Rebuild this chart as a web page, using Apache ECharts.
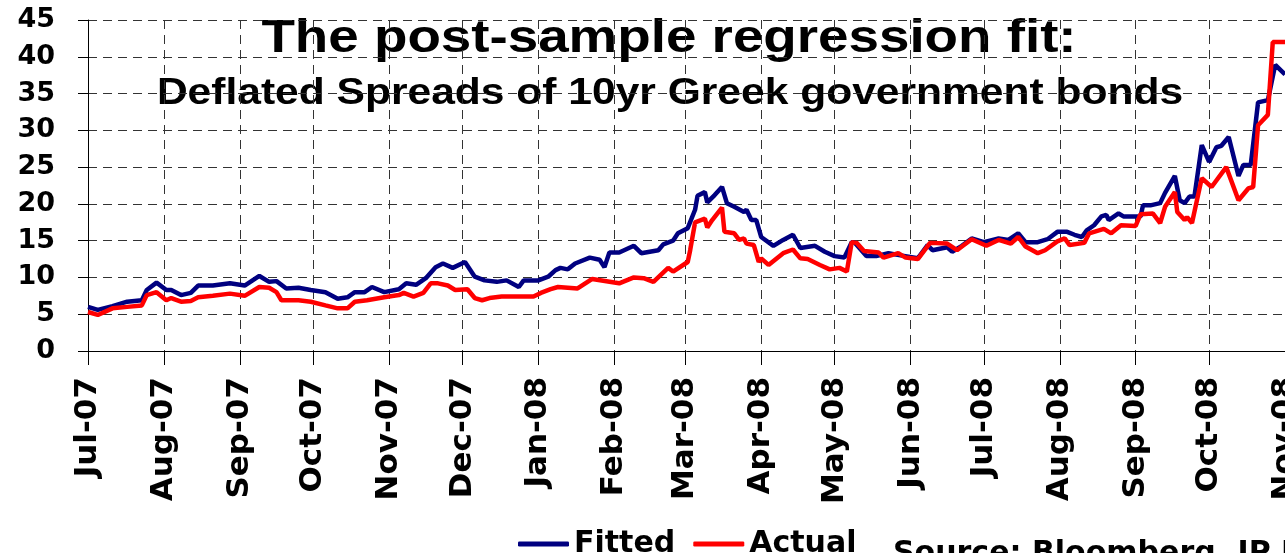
<!DOCTYPE html>
<html>
<head>
<meta charset="utf-8">
<script src="https://cdn.jsdelivr.net/npm/echarts@6/dist/echarts.min.js"></script>
<style>
  html, body { margin: 0; padding: 0; background: #fff; }
  #chart { width: 1285px; height: 553px; }
</style>
</head>
<body>
<div id="chart"></div>
<script>
// values
let fittedDates = [
    '2007-07-01', '2007-07-05', '2007-07-11', '2007-07-17', '2007-07-23', '2007-07-25', '2007-07-29',
    '2007-08-02', '2007-08-04', '2007-08-08', '2007-08-12', '2007-08-15', '2007-08-21', '2007-08-28',
    '2007-09-03', '2007-09-09', '2007-09-13', '2007-09-16', '2007-09-20', '2007-09-25', '2007-09-30',
    '2007-10-06', '2007-10-11', '2007-10-15', '2007-10-18', '2007-10-22', '2007-10-25', '2007-10-30',
    '2007-11-05', '2007-11-08', '2007-11-12', '2007-11-16', '2007-11-20', '2007-11-23', '2007-11-27',
    '2007-12-02', '2007-12-06', '2007-12-10', '2007-12-15', '2007-12-19', '2007-12-24', '2007-12-26',
    '2008-01-01', '2008-01-05', '2008-01-08', '2008-01-10', '2008-01-13', '2008-01-16', '2008-01-22',
    '2008-01-26', '2008-01-28', '2008-01-30', '2008-02-03', '2008-02-09', '2008-02-12', '2008-02-19',
    '2008-02-21', '2008-02-25', '2008-02-27', '2008-03-02', '2008-03-05', '2008-03-06', '2008-03-09',
    '2008-03-10', '2008-03-13', '2008-03-16', '2008-03-18', '2008-03-21', '2008-03-25', '2008-03-26',
    '2008-03-28', '2008-03-30', '2008-04-01', '2008-04-06', '2008-04-10', '2008-04-14', '2008-04-17',
    '2008-04-23', '2008-04-27', '2008-05-01', '2008-05-05', '2008-05-08', '2008-05-09', '2008-05-14',
    '2008-05-18', '2008-05-23', '2008-05-28', '2008-06-04', '2008-06-08', '2008-06-10', '2008-06-16',
    '2008-06-18', '2008-06-22', '2008-06-26', '2008-07-01', '2008-07-07', '2008-07-11', '2008-07-15',
    '2008-07-18', '2008-07-23', '2008-07-27', '2008-07-31', '2008-08-04', '2008-08-07', '2008-08-10',
    '2008-08-12', '2008-08-15', '2008-08-18', '2008-08-20', '2008-08-21', '2008-08-25', '2008-08-27',
    '2008-09-03', '2008-09-04', '2008-09-07', '2008-09-11', '2008-09-13', '2008-09-17', '2008-09-19',
    '2008-09-21', '2008-09-23', '2008-09-25', '2008-09-28', '2008-10-01', '2008-10-04', '2008-10-06',
    '2008-10-09', '2008-10-13', '2008-10-15', '2008-10-18', '2008-10-21', '2008-10-25', '2008-10-28',
    '2008-11-01'
];
let fittedValues = [
    6.0, 5.6, 6.1, 6.7, 6.9, 8.3, 9.3,
    8.3, 8.3, 7.6, 7.9, 8.9, 8.9, 9.2,
    8.9, 10.2, 9.4, 9.5, 8.5, 8.6, 8.3,
    8.0, 7.1, 7.3, 8.0, 8.0, 8.7, 8.0,
    8.4, 9.2, 9.0, 9.9, 11.4, 11.9, 11.3,
    12.1, 10.1, 9.6, 9.4, 9.6, 8.7, 9.6,
    9.6, 10.1, 11.0, 11.3, 11.1, 11.9, 12.7,
    12.4, 11.4, 13.4, 13.4, 14.3, 13.3, 13.7,
    14.5, 15.0, 16.0, 16.7, 19.2, 21.1, 21.6,
    20.2, 21.2, 22.3, 20.1, 19.6, 18.9, 19.2,
    17.8, 17.8, 15.5, 14.3, 15.1, 15.8, 14.0,
    14.3, 13.5, 12.9, 12.7, 14.8, 14.8, 12.9,
    12.9, 13.3, 13.0, 12.6, 14.4, 13.7, 14.1,
    13.5, 14.3, 15.3, 14.8, 15.3, 15.1, 16.0,
    14.8, 14.8, 15.2, 16.2, 16.2, 15.8, 15.5,
    16.4, 17.1, 18.3, 18.5, 17.8, 18.7, 18.3,
    18.3, 19.8, 19.8, 20.1, 21.5, 23.8, 20.5,
    20.1, 21.0, 21.0, 28.0, 25.7, 27.7, 27.9,
    29.1, 23.8, 25.3, 25.3, 33.8, 34.1, 38.9,
    37.6
];

let actualDates = [
    '2007-07-01', '2007-07-05', '2007-07-11', '2007-07-17', '2007-07-23', '2007-07-25', '2007-07-29',
    '2007-08-02', '2007-08-04', '2007-08-08', '2007-08-12', '2007-08-15', '2007-08-21', '2007-08-28',
    '2007-09-03', '2007-09-09', '2007-09-13', '2007-09-16', '2007-09-18', '2007-09-25', '2007-09-30',
    '2007-10-06', '2007-10-11', '2007-10-15', '2007-10-18', '2007-10-23', '2007-10-30',
    '2007-11-05', '2007-11-07', '2007-11-11', '2007-11-15', '2007-11-18', '2007-11-21', '2007-11-25',
    '2007-11-28', '2007-12-03', '2007-12-06', '2007-12-09', '2007-12-12', '2007-12-17', '2007-12-30',
    '2008-01-02', '2008-01-06', '2008-01-09', '2008-01-17', '2008-01-23', '2008-02-01', '2008-02-03',
    '2008-02-09', '2008-02-13', '2008-02-17', '2008-02-23', '2008-02-25', '2008-03-02', '2008-03-03',
    '2008-03-05', '2008-03-09', '2008-03-10', '2008-03-12', '2008-03-16', '2008-03-17', '2008-03-21',
    '2008-03-23', '2008-03-25', '2008-03-26', '2008-03-29', '2008-03-31', '2008-04-01', '2008-04-04',
    '2008-04-10', '2008-04-14', '2008-04-17', '2008-04-20', '2008-04-25', '2008-04-29', '2008-05-03',
    '2008-05-06', '2008-05-08', '2008-05-10', '2008-05-13', '2008-05-19', '2008-05-21', '2008-05-27',
    '2008-05-30', '2008-06-04', '2008-06-09', '2008-06-16', '2008-06-20', '2008-06-22', '2008-06-26',
    '2008-07-02', '2008-07-07', '2008-07-12', '2008-07-15', '2008-07-18', '2008-07-23', '2008-07-26',
    '2008-07-31', '2008-08-03', '2008-08-05', '2008-08-11', '2008-08-13', '2008-08-19', '2008-08-22',
    '2008-08-26', '2008-09-01', '2008-09-03', '2008-09-08', '2008-09-11', '2008-09-13', '2008-09-17',
    '2008-09-18', '2008-09-21', '2008-09-22', '2008-09-24', '2008-09-28', '2008-10-02', '2008-10-08',
    '2008-10-13', '2008-10-17', '2008-10-19', '2008-10-21', '2008-10-25', '2008-10-27', '2008-11-01'
];
let actualValues = [
    5.3, 4.9, 5.8, 6.0, 6.2, 7.6, 8.0,
    6.9, 7.2, 6.7, 6.8, 7.3, 7.5, 7.8,
    7.5, 8.7, 8.6, 8.0, 6.9, 6.9, 6.7,
    6.2, 5.8, 5.8, 6.7, 6.9, 7.3,
    7.6, 7.9, 7.4, 7.9, 9.2, 9.2, 8.9,
    8.3, 8.4, 7.2, 6.9, 7.2, 7.4, 7.4,
    7.9, 8.4, 8.7, 8.5, 9.8, 9.3, 9.2,
    10.0, 9.9, 9.4, 11.3, 10.8, 12.1, 13.7,
    17.5, 18.0, 16.8, 17.8, 19.5, 16.2, 16.0,
    15.1, 15.3, 14.6, 14.4, 12.1, 12.6, 11.7,
    13.3, 13.8, 12.6, 12.5, 11.7, 11.1, 11.3,
    10.8, 14.8, 14.7, 13.6, 13.4, 12.7, 13.3,
    12.7, 12.5, 14.7, 14.6, 13.7, 14.2, 15.2,
    14.3, 15.1, 14.6, 15.5, 14.2, 13.3, 13.7,
    14.9, 15.3, 14.4, 14.7, 16.0, 16.6, 16.0,
    17.1, 17.0, 18.6, 18.7, 17.4, 19.6, 21.6,
    18.9, 17.8, 18.2, 17.4, 23.5, 22.3, 25.0,
    20.5, 22.1, 22.3, 30.7, 32.1, 42.0, 42.0
];

let monthNames = ['Jan', 'Feb', 'Mar', 'Apr', 'May', 'Jun', 'Jul', 'Aug', 'Sep', 'Oct', 'Nov', 'Dec'];
let DAY = 24 * 3600 * 1000;

function pairs(dates, values) {
    return dates.map(function (d, i) {
        return [d, values[i]];
    });
}

let chart = echarts.init(document.getElementById('chart'));
chart.setOption({
    animation: false,
    backgroundColor: '#fff',
    textStyle: {
        fontFamily: 'DejaVu Sans',
        fontWeight: 'bold',
        color: '#000'
    },
    graphic: [
        {
            type: 'text',
            x: 669,
            y: 39,
            scaleX: 1.19,
            style: {
                text: 'The post-sample regression fit:',
                font: 'bold 46px "Liberation Sans"',
                fill: '#000',
                align: 'center',
                verticalAlign: 'middle'
            }
        },
        {
            type: 'text',
            x: 670,
            y: 94,
            scaleX: 1.15,
            style: {
                text: 'Deflated Spreads of 10yr Greek government bonds',
                font: 'bold 37px "Liberation Sans"',
                fill: '#000',
                align: 'center',
                verticalAlign: 'middle'
            }
        },
        {
            type: 'text',
            x: 893,
            y: 539,
            style: {
                text: 'Source: Bloomberg, JP Morgan',
                font: 'bold 30px "DejaVu Sans"',
                fill: '#000',
                align: 'left',
                verticalAlign: 'top'
            }
        }
    ],
    legend: {
        left: 513,
        top: 524,
        icon: 'roundRect',
        itemWidth: 51,
        itemHeight: 5,
        itemGap: 18,
        textStyle: {
            fontFamily: 'DejaVu Sans',
            fontWeight: 'bold',
            fontSize: 30,
            color: '#000'
        },
        data: ['Fitted', 'Actual']
    },
    grid: {
        left: 88,
        right: 0,
        top: 20,
        bottom: 202,
        containLabel: false,
        outerBoundsMode: 'none'
    },
    xAxis: {
        type: 'time',
        min: '2007-07-01',
        max: '2008-11-01',
        splitNumber: 16,
        minInterval: 28 * DAY,
        maxInterval: 31 * DAY,
        axisLine: { lineStyle: { color: '#000', width: 1 } },
        axisTick: { show: true, length: 14, lineStyle: { color: '#000' } },
        axisLabel: {
            rotate: 90,
            margin: 26,
            fontSize: 31,
            fontWeight: 'bold',
            fontFamily: 'DejaVu Sans',
            color: '#000',
            showMinLabel: true,
            showMaxLabel: true,
            hideOverlap: false,
            formatter: function (value) {
                let d = new Date(value);
                return monthNames[d.getMonth()] + '-' + String(d.getFullYear()).slice(2);
            }
        },
        splitLine: {
            show: true,
            lineStyle: { color: '#333', width: 1, type: [9, 6] }
        }
    },
    yAxis: {
        type: 'value',
        min: 0,
        max: 45,
        interval: 5,
        axisLine: { show: true, lineStyle: { color: '#000', width: 1 } },
        axisTick: { show: true, length: 10, lineStyle: { color: '#000' } },
        axisLabel: {
            margin: 33,
            fontSize: 27,
            fontWeight: 'bold',
            fontFamily: 'DejaVu Sans',
            color: '#000'
        },
        splitLine: {
            show: true,
            lineStyle: { color: '#333', width: 1, type: [9, 6] }
        }
    },
    series: [
        {
            name: 'Fitted',
            type: 'line',
            showSymbol: false,
            symbol: 'none',
            color: '#000080',
            lineStyle: { color: '#000080', width: 4.5 },
            data: pairs(fittedDates, fittedValues)
        },
        {
            name: 'Actual',
            type: 'line',
            showSymbol: false,
            symbol: 'none',
            color: '#ff0000',
            lineStyle: { color: '#ff0000', width: 4.5 },
            data: pairs(actualDates, actualValues)
        }
    ]
});
</script>
</body>
</html>
